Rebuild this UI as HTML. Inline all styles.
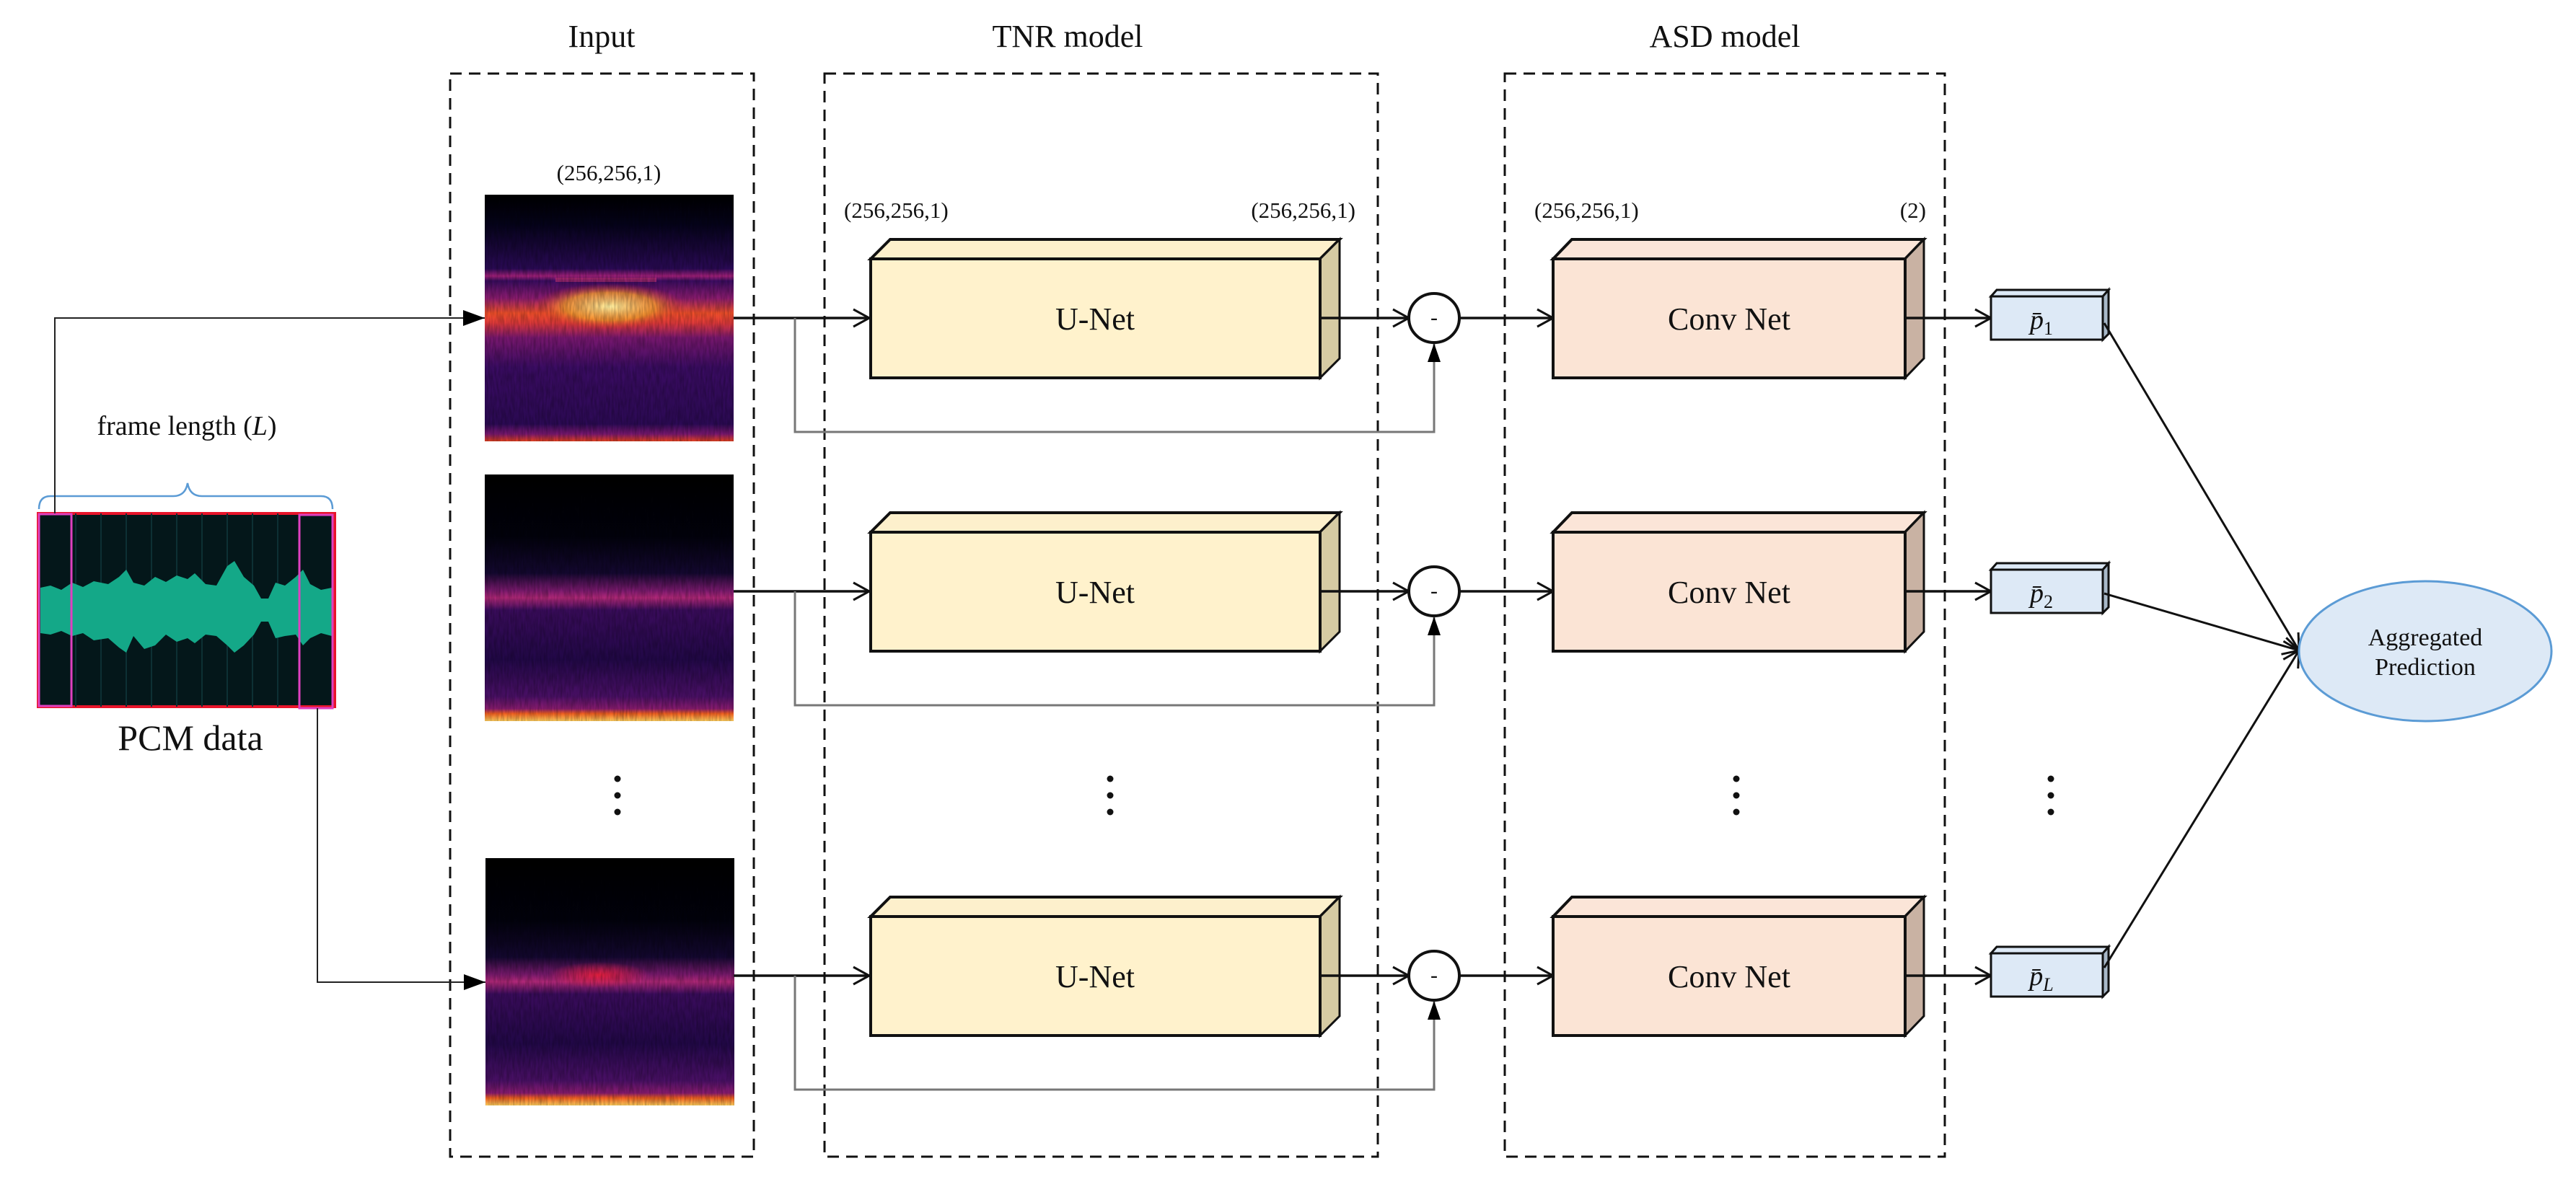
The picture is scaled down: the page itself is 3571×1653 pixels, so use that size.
<!DOCTYPE html>
<html><head><meta charset="utf-8"><style>
html,body{margin:0;padding:0;background:#fff;}
svg{display:block;}
text{font-family:"Liberation Serif",serif;fill:#111;}
</style></head><body>
<svg width="3571" height="1653" viewBox="0 0 3571 1653" xmlns="http://www.w3.org/2000/svg">
<defs>
<marker id="open" markerWidth="30" markerHeight="30" refX="26" refY="15" orient="auto" markerUnits="userSpaceOnUse">
<path d="M4,3 L26,15 L4,27" fill="none" stroke="#111" stroke-width="3"/></marker>
<marker id="fill" markerWidth="34" markerHeight="30" refX="32" refY="15" orient="auto" markerUnits="userSpaceOnUse">
<path d="M2,4 L32,15 L2,26 Z" fill="#000"/></marker>
<marker id="fillsm" markerWidth="30" markerHeight="24" refX="28" refY="12" orient="auto" markerUnits="userSpaceOnUse">
<path d="M2,3 L28,12 L2,21 Z" fill="#000"/></marker>
<filter id="noise" x="0" y="0" width="100%" height="100%">
<feTurbulence type="fractalNoise" baseFrequency="0.35 0.06" numOctaves="2" seed="3"/>
<feColorMatrix type="matrix" values="0 0 0 0 0  0 0 0 0 0  0 0 0 0 0  0 0 0 0.9 -0.25"/>
<feComposite in2="SourceGraphic" operator="in"/>
</filter>
<linearGradient id="s1" x1="0" y1="0" x2="0" y2="1">
<stop offset="0" stop-color="#000"/><stop offset="0.12" stop-color="#05031a"/>
<stop offset="0.30" stop-color="#2a0a55"/><stop offset="0.33" stop-color="#a0207a"/><stop offset="0.35" stop-color="#3a0c60"/>
<stop offset="0.42" stop-color="#8c1c70"/><stop offset="0.48" stop-color="#f0502a"/><stop offset="0.52" stop-color="#e03a3a"/>
<stop offset="0.58" stop-color="#7a1870"/><stop offset="0.7" stop-color="#3a0c62"/><stop offset="0.93" stop-color="#2c0a55"/>
<stop offset="0.97" stop-color="#7a1870"/><stop offset="1" stop-color="#e04020"/>
</linearGradient>
<linearGradient id="s2" x1="0" y1="0" x2="0" y2="1">
<stop offset="0" stop-color="#000"/><stop offset="0.25" stop-color="#02020c"/>
<stop offset="0.4" stop-color="#140830"/><stop offset="0.47" stop-color="#7a1a6e"/><stop offset="0.5" stop-color="#b02878"/>
<stop offset="0.55" stop-color="#3a0c5c"/><stop offset="0.75" stop-color="#220848"/><stop offset="0.9" stop-color="#4a1066"/>
<stop offset="0.95" stop-color="#8a1c70"/><stop offset="0.97" stop-color="#f06020"/><stop offset="1" stop-color="#ffd060"/>
</linearGradient>
<radialGradient id="hot1" cx="0.5" cy="0.5" r="0.5"><stop offset="0" stop-color="#fff0a0"/><stop offset="0.6" stop-color="#f8a030" stop-opacity="0.8"/><stop offset="1" stop-color="#e03030" stop-opacity="0"/></radialGradient>
<radialGradient id="hot3" cx="0.5" cy="0.5" r="0.5"><stop offset="0" stop-color="#e82040"/><stop offset="1" stop-color="#e82040" stop-opacity="0"/></radialGradient>
</defs>

<text x="834" y="65" font-size="44" text-anchor="middle">Input</text>
<text x="1480" y="65" font-size="44" text-anchor="middle">TNR model</text>
<text x="2391" y="65" font-size="44" text-anchor="middle">ASD model</text>

<g fill="none" stroke="#111" stroke-width="3" stroke-dasharray="16 10">
<rect x="624" y="102" width="421" height="1502"/>
<rect x="1143" y="102" width="767" height="1502"/>
<rect x="2086" y="102" width="610" height="1502"/>
</g>

<rect x="672" y="270" width="345" height="342" fill="url(#s1)"/>
<ellipse cx="845" cy="425" rx="105" ry="32" fill="url(#hot1)"/>
<rect x="770" y="385" width="140" height="6" fill="#c03070" opacity="0.6"/>
<rect x="672" y="270" width="345" height="342" fill="#000" filter="url(#noise)" opacity="0.5"/>
<rect x="672" y="658" width="345" height="342" fill="url(#s2)"/>
<rect x="672" y="658" width="345" height="342" fill="#000" filter="url(#noise)" opacity="0.5"/>
<rect x="673" y="1190" width="345" height="343" fill="url(#s2)"/>
<ellipse cx="830" cy="1352" rx="70" ry="18" fill="url(#hot3)"/>
<rect x="673" y="1190" width="345" height="343" fill="#000" filter="url(#noise)" opacity="0.5"/>

<text x="844" y="250" font-size="31" text-anchor="middle">(256,256,1)</text>
<text x="1170" y="302" font-size="31">(256,256,1)</text>
<text x="1879" y="302" font-size="31" text-anchor="end">(256,256,1)</text>
<text x="2127" y="302" font-size="31">(256,256,1)</text>
<text x="2670" y="302" font-size="31" text-anchor="end">(2)</text>

<!-- PCM -->
<path d="M54,706 Q54,688 70,688 H240 Q257,688 260,670 Q263,688 280,688 H445 Q461,688 461,706" fill="none" stroke="#5b9bd5" stroke-width="2.5"/>
<text x="259" y="603" font-size="38" text-anchor="middle">frame length (<tspan font-style="italic">L</tspan>)</text>
<rect x="53" y="712" width="411" height="268" fill="#04171a" stroke="#e8142a" stroke-width="4"/>
<g stroke="#0d3034" stroke-width="2">
<line x1="105" y1="712" x2="105" y2="980"/><line x1="140" y1="712" x2="140" y2="980"/><line x1="175" y1="712" x2="175" y2="980"/><line x1="210" y1="712" x2="210" y2="980"/><line x1="245" y1="712" x2="245" y2="980"/><line x1="280" y1="712" x2="280" y2="980"/><line x1="315" y1="712" x2="315" y2="980"/><line x1="350" y1="712" x2="350" y2="980"/><line x1="385" y1="712" x2="385" y2="980"/>
</g>
<path d="M56,815 L70,812 L85,818 L100,808 L115,814 L130,806 L150,810 L165,800 L175,790 L185,808 L200,812 L215,800 L230,807 L245,798 L260,803 L270,795 L285,810 L300,812 L315,785 L325,778 L338,800 L352,812 L362,830 L372,830 L382,808 L395,812 L410,800 L420,790 L430,810 L445,818 L460,815
L460,882 L445,878 L430,885 L420,895 L410,880 L395,882 L382,885 L372,862 L362,862 L352,880 L338,895 L325,905 L315,895 L300,882 L285,880 L270,892 L260,885 L245,890 L230,880 L215,895 L200,900 L185,882 L175,905 L165,898 L150,885 L130,888 L115,878 L100,882 L85,875 L70,880 L56,878 Z" fill="#14a888"/>
<rect x="54" y="713" width="45" height="266" fill="none" stroke="#e040c0" stroke-width="3"/>
<rect x="415" y="714" width="46" height="268" fill="none" stroke="#e040c0" stroke-width="3"/>
<text x="264" y="1040" font-size="50" text-anchor="middle">PCM data</text>

<path d="M76,712 V441 H672" fill="none" stroke="#222" stroke-width="2" marker-end="url(#fill)"/>
<path d="M440,982 V1362 H673" fill="none" stroke="#222" stroke-width="2" marker-end="url(#fill)"/>

<g id="row">
<line x1="1017" y1="441" x2="1205" y2="441" stroke="#111" stroke-width="3.5" marker-end="url(#open)"/>
<path d="M1102,441 V599 H1988 V476" fill="none" stroke="#777" stroke-width="3" marker-end="url(#fillsm)"/>
<polygon points="1207,359 1234,332 1857,332 1830,359" fill="#fdf0cc" stroke="#111" stroke-width="4"/>
<polygon points="1830,359 1857,332 1857,497 1830,524" fill="#d6cba3" stroke="#111" stroke-width="3"/>
<rect x="1207" y="359" width="623" height="165" fill="#fff2cc" stroke="#111" stroke-width="4"/>
<text x="1518" y="457" font-size="44" text-anchor="middle">U-Net</text>
<line x1="1830" y1="441" x2="1953" y2="441" stroke="#111" stroke-width="3.5" marker-end="url(#open)"/>
<ellipse cx="1988" cy="441" rx="35" ry="34" fill="#fff" stroke="#111" stroke-width="4"/>
<text x="1988" y="450" font-size="30" text-anchor="middle">-</text>
<line x1="2023" y1="441" x2="2153" y2="441" stroke="#111" stroke-width="3.5" marker-end="url(#open)"/>
<polygon points="2153,359 2179,332 2667,332 2641,359" fill="#fbe5d8" stroke="#111" stroke-width="4"/>
<polygon points="2641,359 2667,332 2667,497 2641,524" fill="#c9b2a3" stroke="#111" stroke-width="3"/>
<rect x="2153" y="359" width="488" height="165" fill="#fbe4d5" stroke="#111" stroke-width="4"/>
<text x="2397" y="457" font-size="44" text-anchor="middle">Conv Net</text>
<line x1="2641" y1="441" x2="2760" y2="441" stroke="#111" stroke-width="3.5" marker-end="url(#open)"/>
</g>
<use href="#row" transform="translate(0,379)"/>
<use href="#row" transform="translate(0,912)"/>

<g id="pb">
<polygon points="2760,411 2768,402 2923,402 2915,411" fill="#dde9f6" stroke="#111" stroke-width="3"/>
<polygon points="2915,411 2923,402 2923,463 2915,471" fill="#a8b8c8" stroke="#111" stroke-width="3"/>
<rect x="2760" y="411" width="155" height="60" fill="#dde9f6" stroke="#111" stroke-width="3"/>
</g>
<use href="#pb" transform="translate(0,379)"/>
<use href="#pb" transform="translate(0,911)"/>
<text x="2830" y="456" font-size="38" font-style="italic" text-anchor="middle">p̄<tspan font-size="26" font-style="normal" dy="8">1</tspan></text>
<text x="2830" y="835" font-size="38" font-style="italic" text-anchor="middle">p̄<tspan font-size="26" font-style="normal" dy="8">2</tspan></text>
<text x="2830" y="1366" font-size="38" font-style="italic" text-anchor="middle">p̄<tspan font-size="26" dy="8">L</tspan></text>

<g stroke="#111" stroke-width="3" fill="none">
<line x1="2917" y1="448" x2="3187" y2="902" marker-end="url(#open)"/>
<line x1="2917" y1="823" x2="3187" y2="902" marker-end="url(#open)"/>
<line x1="2917" y1="1342" x2="3187" y2="902" marker-end="url(#open)"/>
</g>
<ellipse cx="3362" cy="903" rx="175" ry="97" fill="#dde9f6" stroke="#5b9bd5" stroke-width="3"/>
<text x="3362" y="895" font-size="34" text-anchor="middle">Aggregated</text>
<text x="3362" y="936" font-size="34" text-anchor="middle">Prediction</text>

<g fill="#111">
<circle cx="856" cy="1080" r="4.5"/><circle cx="856" cy="1103" r="4.5"/><circle cx="856" cy="1126" r="4.5"/>
<circle cx="1539" cy="1080" r="4.5"/><circle cx="1539" cy="1103" r="4.5"/><circle cx="1539" cy="1126" r="4.5"/>
<circle cx="2407" cy="1080" r="4.5"/><circle cx="2407" cy="1103" r="4.5"/><circle cx="2407" cy="1126" r="4.5"/>
<circle cx="2843" cy="1080" r="4.5"/><circle cx="2843" cy="1103" r="4.5"/><circle cx="2843" cy="1126" r="4.5"/>
</g>
</svg>
</body></html>
